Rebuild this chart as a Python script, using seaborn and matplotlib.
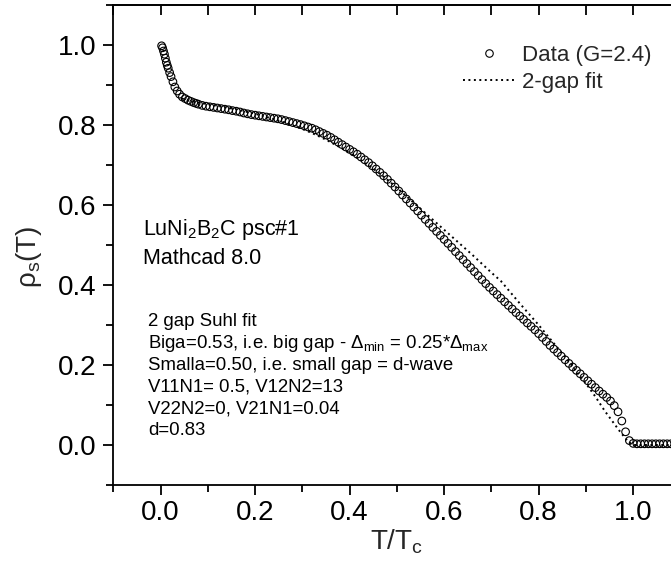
import numpy as np
import pandas as pd
import matplotlib
matplotlib.use("Agg")
import matplotlib.pyplot as plt
from matplotlib.ticker import MultipleLocator, FormatStrFormatter
from matplotlib.lines import Line2D
import seaborn as sns

# Superfluid density data, rho_s(T) versus reduced temperature T/Tc
t_data = [0.002, 0.004, 0.006, 0.008, 0.010, 0.012, 0.014, 0.016, 0.019, 0.022,
          0.026, 0.030, 0.035, 0.040, 0.046, 0.052, 0.058, 0.064, 0.070, 0.075,
          0.080, 0.088, 0.096, 0.104, 0.112, 0.120, 0.128, 0.136, 0.144, 0.152,
          0.160, 0.168, 0.176, 0.184, 0.192, 0.200, 0.208, 0.216, 0.224, 0.232,
          0.240, 0.248, 0.256, 0.264, 0.272, 0.280, 0.288, 0.296, 0.304, 0.312,
          0.320, 0.328, 0.336, 0.344, 0.352, 0.360, 0.368, 0.376, 0.384, 0.392,
          0.400, 0.408, 0.416, 0.424, 0.432, 0.440, 0.448, 0.456, 0.464, 0.472,
          0.480, 0.488, 0.496, 0.504, 0.512, 0.520, 0.528, 0.536, 0.544, 0.552,
          0.560, 0.568, 0.576, 0.584, 0.592, 0.600, 0.608, 0.616, 0.624, 0.632,
          0.640, 0.648, 0.656, 0.664, 0.672, 0.680, 0.688, 0.696, 0.704, 0.712,
          0.720, 0.728, 0.736, 0.744, 0.752, 0.760, 0.768, 0.776, 0.784, 0.792,
          0.800, 0.808, 0.816, 0.824, 0.832, 0.840, 0.848, 0.856, 0.864, 0.872,
          0.880, 0.888, 0.896, 0.904, 0.912, 0.920, 0.928, 0.936, 0.944, 0.952,
          0.960, 0.968, 0.976, 0.984, 0.992, 1.000, 1.008, 1.016, 1.024, 1.032,
          1.040, 1.048, 1.056, 1.064, 1.072, 1.080]
rho_data = [0.998, 0.993, 0.985, 0.977, 0.967, 0.957, 0.949, 0.942, 0.931, 0.921,
            0.908, 0.895, 0.885, 0.877, 0.870, 0.866, 0.862, 0.859, 0.856, 0.854,
            0.852, 0.849, 0.847, 0.8455, 0.844, 0.8425, 0.841, 0.8395, 0.838, 0.836,
            0.8345, 0.8325, 0.830, 0.828, 0.826, 0.8245, 0.823, 0.8215, 0.820, 0.8185,
            0.817, 0.8155, 0.8135, 0.811, 0.8085, 0.806, 0.8035, 0.801, 0.798, 0.795,
            0.792, 0.788, 0.7835, 0.779, 0.7745, 0.769, 0.763, 0.757, 0.751, 0.745,
            0.739, 0.733, 0.727, 0.720, 0.713, 0.706, 0.698, 0.690, 0.6815, 0.673,
            0.664, 0.6545, 0.645, 0.635, 0.625, 0.615, 0.605, 0.595, 0.585, 0.5745,
            0.564, 0.554, 0.544, 0.534, 0.524, 0.514, 0.504, 0.494, 0.4835, 0.4735,
            0.4635, 0.4535, 0.4435, 0.4335, 0.4235, 0.4135, 0.4035, 0.394, 0.385, 0.376,
            0.367, 0.358, 0.349, 0.340, 0.331, 0.3225, 0.314, 0.305, 0.2965, 0.288,
            0.2785, 0.269, 0.259, 0.249, 0.240, 0.231, 0.222, 0.213, 0.204, 0.195,
            0.1865, 0.178, 0.169, 0.1605, 0.152, 0.1435, 0.135, 0.127, 0.119, 0.110,
            0.0985, 0.083, 0.060, 0.033, 0.011, 0.004, 0.003, 0.003, 0.003, 0.003,
            0.003, 0.003, 0.003, 0.003, 0.003, 0.003]

# Two-gap Suhl model curve
t_fit = [0.045, 0.06, 0.08, 0.10, 0.12, 0.14, 0.16, 0.18, 0.20, 0.22,
         0.24, 0.26, 0.28, 0.30, 0.32, 0.34, 0.36, 0.38, 0.40, 0.42,
         0.44, 0.46, 0.48, 0.50, 0.52, 0.54, 0.56, 0.58, 0.60, 0.62,
         0.64, 0.66, 0.68, 0.70, 0.72, 0.74, 0.76, 0.78, 0.80, 0.82,
         0.84, 0.86, 0.88, 0.90, 0.92, 0.94, 0.96, 0.97, 0.98, 0.99,
         1.00, 1.08]
rho_fit = [0.866, 0.861, 0.856, 0.852, 0.848, 0.8435, 0.839, 0.8335, 0.828, 0.8215,
           0.8145, 0.807, 0.7985, 0.790, 0.780, 0.769, 0.757, 0.744, 0.730, 0.715,
           0.699, 0.682, 0.663, 0.643, 0.622, 0.601, 0.580, 0.559, 0.538, 0.517,
           0.496, 0.475, 0.453, 0.431, 0.410, 0.382, 0.354, 0.327, 0.300, 0.2715,
           0.243, 0.214, 0.184, 0.154, 0.121, 0.085, 0.053, 0.037, 0.022, 0.008,
           0.0, 0.0]

x_ticks = [0.0, 0.2, 0.4, 0.6, 0.8, 1.0]
y_ticks = [0.0, 0.2, 0.4, 0.6, 0.8, 1.0]

sns.set_style("white")
plt.rcParams["font.family"] = ["Liberation Sans", "DejaVu Sans"]
plt.rcParams["mathtext.fontset"] = "custom"
plt.rcParams["mathtext.rm"] = "Liberation Sans"
plt.rcParams["mathtext.it"] = "Liberation Sans:italic"
plt.rcParams["mathtext.bf"] = "Liberation Sans:bold"

W, H = 671, 562
fig = plt.figure(figsize=(W / 100, H / 100), dpi=100)
ax_left, ax_right, ax_top, ax_bottom = 113.4, 680.4, 5.0, 485.0
ax = fig.add_axes([ax_left / W, 1 - ax_bottom / H,
                   (ax_right - ax_left) / W, (ax_bottom - ax_top) / H])

df_data = pd.DataFrame({"t": t_data, "rho": rho_data})
df_fit = pd.DataFrame({"t": t_fit, "rho": rho_fit})

sns.scatterplot(data=df_data, x="t", y="rho", ax=ax, marker="o", s=30,
                facecolors="none", edgecolor="black", linewidth=0.8, zorder=3)
sns.lineplot(data=df_fit, x="t", y="rho", ax=ax, sort=False, color="black",
             linestyle=(0, (1, 1.8)), linewidth=1.4, zorder=2)

ax.set_xlim(-0.1, 1.1)
ax.set_ylim(-0.1, 1.1)

ax.set_xticks(x_ticks)
ax.set_yticks(y_ticks)
ax.xaxis.set_minor_locator(MultipleLocator(0.1))
ax.yaxis.set_minor_locator(MultipleLocator(0.1))
ax.xaxis.set_major_formatter(FormatStrFormatter("%.1f"))
ax.yaxis.set_major_formatter(FormatStrFormatter("%.1f"))

for side in ["left", "bottom", "top"]:
    ax.spines[side].set_linewidth(1.3)
    ax.spines[side].set_color("black")
ax.spines["right"].set_visible(False)

ax.tick_params(bottom=True, left=True, top=False, right=False, which="both")
ax.tick_params(axis="both", which="major", direction="out", length=7, width=1.3,
               labelsize=20, color="black", labelcolor="black")
ax.tick_params(axis="both", which="minor", direction="out", length=5, width=1.3,
               color="black")
ax.tick_params(axis="x", which="major", pad=3.6)
ax.tick_params(axis="y", which="major", pad=5)

# inward ticks along the top edge
top = ax.secondary_xaxis("top")
top.set_xticks(x_ticks)
top.xaxis.set_minor_locator(MultipleLocator(0.1))
top.tick_params(which="both", top=True, direction="in", length=7.5, width=1.3,
                labeltop=False, color="black")
top.spines["top"].set_linewidth(1.3)

ax.set_xlabel("T/T$_\\mathrm{c}$", fontsize=20)
ax.set_ylabel("ρ$_\\mathrm{s}$(T)", fontsize=20)
ax.xaxis.set_label_coords(0.499, -0.088)
ax.yaxis.set_label_coords(-0.122, 0.475)

handles = [Line2D([], [], linestyle="none", marker="o", markersize=5.4,
                  markerfacecolor="none", markeredgecolor="black", markeredgewidth=0.8),
           Line2D([], [], color="black", linestyle=(0, (1, 1.8)), linewidth=1.4)]
ax.legend(handles, ["Data (G=2.4)", "2-gap fit"], loc="upper left",
          bbox_to_anchor=(463 / W, 1 - 45 / H), bbox_transform=fig.transFigure,
          frameon=False, fontsize=16, borderpad=0, borderaxespad=0,
          handlelength=2.35, handletextpad=0.3, labelspacing=0.28)


def put(px, py, s, size):
    fig.text(px / W, 1 - py / H, s, fontsize=size, ha="left", va="baseline",
             color="black")


put(143, 235, "LuNi$_2$B$_2$C psc#1", 15.5)
put(143, 264, "Mathcad 8.0", 15.5)

notes = ["2 gap Suhl fit",
         "Biga=0.53, i.e. big gap - Δ$_\\mathrm{min}$ = 0.25*Δ$_\\mathrm{max}$",
         "Smalla=0.50, i.e. small gap = d-wave",
         "V11N1= 0.5, V12N2=13",
         "V22N2=0, V21N1=0.04",
         "d=0.83"]
note_y = [326, 348, 370, 392, 413, 435]
for s, py in zip(notes, note_y):
    put(148, py, s, 13.4)

fig.savefig("out.png", dpi=100)
